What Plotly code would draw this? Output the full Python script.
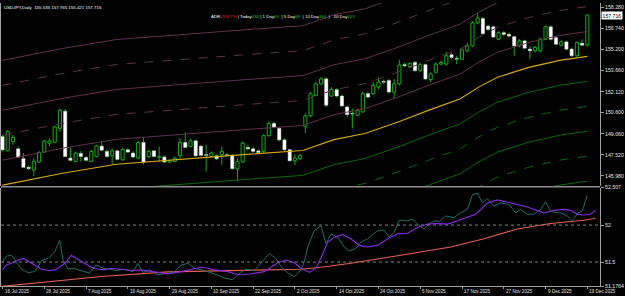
import plotly.graph_objects as go

# ---------------- data ----------------
header_text = "USDJPY,Daily  155.533 157.765 155.421 157.716"

opens = [148.85, 147.81, 148.49, 147.96, 147.24, 146.61, 146.42, 147.00, 147.72, 148.37,
         148.44, 149.45, 150.70, 147.28, 147.04, 147.62, 147.33, 147.04, 147.40, 148.15,
         147.77, 147.45, 147.81, 147.16, 147.89, 147.65, 147.28, 148.42, 147.40, 147.81,
         147.33, 147.36, 147.00, 147.04, 147.48, 148.42, 148.13, 148.54, 148.15, 147.53,
         147.40, 147.45, 147.53, 147.52, 147.48, 146.49, 147.00, 148.06, 147.96, 147.81,
         147.77, 148.92, 149.81, 149.45, 148.61, 147.89, 147.09, 147.24, 149.57, 150.37,
         151.86, 152.70, 153.06, 151.81, 152.27, 151.81, 151.01, 150.53, 150.41, 150.65,
         151.98, 151.98, 152.46, 152.87, 152.94, 152.10, 152.70, 154.10, 153.95, 154.26,
         153.66, 154.10, 153.01, 153.54, 154.14, 154.14, 154.82, 154.55, 154.50, 155.11,
         155.47, 157.15, 157.46, 156.91, 156.86, 155.95, 156.43, 156.31, 156.14, 155.47,
         155.83, 155.23, 155.11, 155.11, 155.95, 156.86, 156.07, 155.52, 155.76, 155.23,
         154.75, 155.66, 155.533]
highs = [148.97, 149.33, 148.97, 148.13, 147.65, 146.76, 147.28, 147.81, 148.61, 148.73,
         149.64, 150.89, 150.85, 148.06, 147.77, 147.81, 147.43, 147.89, 148.25, 148.49,
         147.89, 147.96, 147.91, 148.01, 148.01, 147.77, 148.54, 148.83, 147.89, 147.89,
         148.13, 147.48, 147.19, 147.40, 148.73, 149.16, 148.68, 148.63, 148.25, 148.25,
         147.77, 147.57, 148.13, 147.65, 147.57, 147.28, 148.49, 148.25, 148.10, 147.91,
         149.02, 149.93, 149.93, 149.55, 148.73, 147.96, 147.53, 147.57, 150.53, 152.10,
         152.82, 153.18, 153.18, 152.46, 152.39, 151.91, 151.14, 150.89, 150.89, 152.10,
         152.10, 152.82, 153.18, 153.01, 153.06, 153.06, 154.46, 154.22, 154.31, 154.36,
         154.22, 154.19, 153.54, 154.26, 154.38, 155.03, 154.99, 154.75, 155.28, 155.71,
         157.27, 157.87, 157.59, 157.03, 156.96, 156.53, 156.55, 156.43, 156.19, 155.95,
         155.92, 155.47, 155.47, 156.07, 156.96, 156.96, 156.19, 155.88, 155.85, 155.32,
         155.80, 155.95, 157.765]
lows = [147.77, 147.77, 148.25, 147.28, 146.56, 146.42, 145.96, 146.93, 147.65, 148.13,
        148.37, 149.21, 147.33, 147.04, 146.97, 147.04, 147.04, 147.00, 147.33, 147.77,
        147.33, 146.80, 147.12, 147.09, 147.65, 147.28, 147.21, 146.80, 147.28, 147.33,
        147.04, 146.93, 146.90, 147.00, 147.28, 148.01, 148.06, 147.38, 147.40, 146.32,
        147.33, 147.14, 146.80, 147.40, 146.44, 145.60, 146.93, 147.86, 147.67, 147.62,
        147.67, 148.83, 149.45, 148.49, 147.81, 147.04, 146.76, 147.16, 149.09, 150.29,
        151.79, 152.63, 151.01, 151.74, 151.71, 151.01, 150.29, 149.45, 150.34, 150.58,
        151.62, 151.86, 152.29, 152.70, 152.00, 151.62, 152.58, 153.93, 153.86, 153.59,
        153.59, 152.96, 152.82, 153.47, 154.07, 154.02, 154.50, 154.14, 154.43, 154.99,
        155.40, 157.03, 156.29, 156.55, 156.05, 155.88, 156.19, 156.09, 154.75, 155.37,
        155.23, 154.50, 154.99, 154.99, 155.88, 155.85, 155.52, 155.42, 155.14, 154.65,
        154.67, 155.42, 155.421]
closes = [147.89, 149.21, 148.78, 147.36, 146.61, 146.51, 147.04, 147.69, 148.53, 148.54,
          149.55, 150.77, 147.40, 147.12, 147.65, 147.40, 147.12, 147.77, 148.17, 147.86,
          147.40, 147.81, 147.19, 147.91, 147.72, 147.36, 148.42, 147.00, 147.77, 147.40,
          147.38, 147.00, 147.09, 147.28, 148.42, 148.06, 148.54, 147.45, 147.48, 147.48,
          147.65, 147.24, 147.77, 147.48, 146.51, 147.04, 148.37, 147.96, 147.77, 147.69,
          148.92, 149.81, 149.52, 148.61, 147.89, 147.09, 147.28, 147.48, 150.37, 151.98,
          152.70, 153.06, 151.14, 152.29, 151.81, 151.09, 150.46, 150.50, 150.77, 151.98,
          151.74, 152.58, 152.82, 152.82, 152.10, 152.70, 154.07, 154.02, 154.19, 153.66,
          154.10, 153.06, 153.42, 154.14, 154.26, 154.75, 154.63, 154.50, 155.18, 155.47,
          157.15, 157.51, 156.36, 156.67, 156.12, 156.43, 156.31, 156.19, 155.47, 155.83,
          155.30, 155.11, 155.35, 155.95, 156.86, 155.95, 155.59, 155.76, 155.23, 154.75,
          155.71, 155.52, 157.716]

# moving average (yellow) read at bar positions, and envelope step
ma_x = [0, 11.5, 21.8, 29.0, 37.9, 46.7, 57.5, 63.5, 69.4, 75.9, 81.8, 87.6, 91.2, 94.8, 100.8, 106.7, 112]
ma_v = [145.31, 146.18, 146.83, 147.05, 147.33, 147.55, 147.84, 148.63, 149.07, 149.93,
        150.80, 151.59, 152.46, 153.18, 153.90, 154.41, 154.70]
band_step = 1.82
band_levels = [1, 2, 3, 4, 5]

# sub-window indicator lines
teal_x = [0, 0.76, 1.72, 2.68, 3.63, 4.91, 6.18, 7.46, 8.74, 10.0,
          10.96, 11.61, 12.56, 13.52, 15.11, 16.69, 17.97, 19.25, 20.52, 21.80,
          23.38, 24.99, 25.95, 26.90, 28.16, 29.77, 31.68, 32.95, 34.23, 35.51,
          36.77, 38.68, 40.59, 42.50, 44.11, 45.37, 46.65, 48.24, 50.15, 51.11,
          52.39, 53.35, 54.63, 55.89, 57.17, 57.80, 58.45, 59.71, 60.99, 61.95,
          62.91, 64.19, 65.45, 66.41, 67.69, 68.64, 69.92, 71.83, 73.10, 74.05,
          75.01, 75.97, 77.57, 78.53, 79.48, 80.75, 81.70, 82.66, 83.61, 84.89,
          86.48, 87.76, 89.04, 90.00, 90.96, 91.91, 92.87, 94.13, 95.41, 97.00,
          98.28, 99.23, 100.52, 101.78, 103.06, 104.02, 104.97, 105.93, 106.88, 108.16,
          109.12, 110.08, 111.03, 111.99]
teal_v = [51.504, 51.580, 51.593, 51.504, 51.403, 51.358, 51.371, 51.517, 51.549, 51.637,
          51.792, 51.527, 51.403, 51.416, 51.385, 51.350, 51.460, 51.416, 51.403, 51.385,
          51.403, 51.371, 51.483, 51.358, 51.394, 51.328, 51.350, 51.371, 51.460, 51.483,
          51.416, 51.385, 51.341, 51.284, 51.261, 51.350, 51.403, 51.385, 51.536, 51.615,
          51.549, 51.438, 51.350, 51.305, 51.394, 51.504, 51.703, 51.924, 51.991, 51.748,
          51.881, 51.836, 51.703, 51.650, 51.682, 51.769, 51.814, 51.924, 51.934, 51.836,
          51.902, 52.066, 52.057, 52.080, 52.013, 51.947, 52.013, 52.057, 52.048, 52.123,
          52.101, 52.167, 52.212, 52.411, 52.432, 52.300, 52.358, 52.256, 52.300, 52.279,
          52.167, 52.212, 52.146, 52.146, 52.212, 52.313, 52.190, 52.167, 52.167, 52.123,
          52.057, 52.154, 52.190, 52.402]
purple_x = [0, 0.76, 1.72, 2.68, 3.96, 5.22, 6.18, 7.46, 8.74, 10.0,
            11.28, 12.24, 13.19, 14.15, 15.74, 17.02, 18.30, 19.56, 20.84, 22.75,
            24.67, 26.58, 28.49, 30.40, 31.68, 34.23, 35.51, 38.05, 39.33, 40.59,
            43.16, 44.42, 45.70, 47.61, 50.15, 51.43, 52.72, 54.30, 55.89, 57.17,
            58.8, 60.04, 61.0, 62.28, 63.54, 65.14, 66.73, 68.32, 69.92, 71.83,
            73.74, 75.66, 77.57, 79.48, 81.40, 83.31, 85.22, 87.13, 89.04, 90.63,
            91.91, 92.87, 94.78, 96.69, 98.60, 100.52, 102.43, 103.69, 105.60, 107.51,
            108.80, 110.08, 111.34, 112.62, 113.58]
purple_v = [51.394, 51.460, 51.483, 51.517, 51.549, 51.504, 51.460, 51.403, 51.385, 51.394,
            51.447, 51.504, 51.593, 51.549, 51.483, 51.430, 51.403, 51.394, 51.416, 51.403,
            51.385, 51.394, 51.371, 51.350, 51.341, 51.371, 51.394, 51.430, 51.416, 51.394,
            51.371, 51.341, 51.328, 51.341, 51.371, 51.430, 51.491, 51.527, 51.491, 51.416,
            51.360, 51.420, 51.555, 51.769, 51.836, 51.871, 51.814, 51.725, 51.703, 51.725,
            51.814, 51.881, 51.889, 51.968, 52.013, 52.021, 52.013, 52.057, 52.101, 52.146,
            52.233, 52.300, 52.340, 52.313, 52.279, 52.243, 52.190, 52.163, 52.199, 52.212,
            52.199, 52.146, 52.137, 52.146, 52.199]
salmon_x = [0, 18.93, 31.68, 57.17, 60.99, 66.73, 76.29, 85.85, 92.22, 98.60, 104.97, 111.34, 113.58]
salmon_v = [51.172, 51.305, 51.367, 51.403, 51.430, 51.483, 51.593, 51.703, 51.814, 51.947,
            52.021, 52.066, 52.093]

date_labels = ["16 Jul 2025", "28 Jul 2025", "7 Aug 2025", "19 Aug 2025", "29 Aug 2025",
               "10 Sep 2025", "22 Sep 2025", "2 Oct 2025", "14 Oct 2025", "24 Oct 2025",
               "5 Nov 2025", "17 Nov 2025", "27 Nov 2025", "9 Dec 2025", "19 Dec 2025"]
date_step = 8
price_ticks = [145.98, 147.52, 149.06, 150.60, 152.12, 153.66, 155.20, 156.74, 158.28]
sub_ticks = [51.1764, 51.5, 52.0, 52.507]
sub_tick_text = ["51.1764", "51.5", "52", "52.507"]
sub_levels = [51.5, 52.0]
last_price = 157.716

adr_parts = [("ADR:", "white"), ("205.7%", "#ff2020"), (" | Today", "white"), ("234", "#00d000"),
             (" | 1 Day", "white"), ("69", "#00d000"), ("  | 5 Day", "white"), ("93", "#00d000"),
             ("  | 10 Day", "white"), ("164", "#00d000"), ("  |   20 Day", "white"), ("103", "#00d000")]

# ---------------- styling ----------------
GREEN = "#0fb00f"
UP_BAND = "#643050"
DN_BAND = "#0a6a0a"
MA_COL = "#d8aa10"
AXIS_COL = "#a0a0a0"
FONT = "Liberation Sans"

n = len(opens)
bars = list(range(n))
bull = [i for i in bars if closes[i] >= opens[i]]
bear = [i for i in bars if closes[i] < opens[i]]
min_h = 0.03

fig = go.Figure()

# candle bodies
fig.add_trace(go.Bar(
    x=bull, base=[opens[i] for i in bull],
    y=[max(closes[i] - opens[i], min_h) for i in bull],
    width=0.6, marker=dict(color="black", line=dict(color=GREEN, width=1)),
    xaxis="x", yaxis="y", hoverinfo="skip"))
fig.add_trace(go.Bar(
    x=bear, base=[closes[i] for i in bear],
    y=[max(opens[i] - closes[i], min_h) for i in bear],
    width=0.6, marker=dict(color="white", line=dict(color="white", width=0.5)),
    xaxis="x", yaxis="y", hoverinfo="skip"))

# wicks (above and below the bodies)
wx, wy = [], []
for i in bars:
    top = max(opens[i], closes[i])
    bot = min(opens[i], closes[i])
    wx += [i, i, None, i, i, None]
    wy += [top, highs[i], None, lows[i], bot, None]
fig.add_trace(go.Scatter(x=wx, y=wy, mode="lines", line=dict(color=GREEN, width=1),
                         xaxis="x", yaxis="y", hoverinfo="skip"))

# envelope bands
for k in band_levels:
    dash = "solid" if k % 2 == 1 else "dash"
    fig.add_trace(go.Scatter(x=ma_x, y=[v + k * band_step for v in ma_v], mode="lines",
                             line=dict(color=UP_BAND, width=1, dash=dash),
                             xaxis="x", yaxis="y", hoverinfo="skip"))
    fig.add_trace(go.Scatter(x=ma_x, y=[v - k * band_step for v in ma_v], mode="lines",
                             line=dict(color=DN_BAND, width=1, dash=dash),
                             xaxis="x", yaxis="y", hoverinfo="skip"))
# moving average
fig.add_trace(go.Scatter(x=ma_x, y=ma_v, mode="lines", line=dict(color=MA_COL, width=1.1),
                         xaxis="x", yaxis="y", hoverinfo="skip"))

# sub-window lines
fig.add_trace(go.Scatter(x=salmon_x, y=salmon_v, mode="lines", line=dict(color="#e8604f", width=1.1),
                         xaxis="x2", yaxis="y2", hoverinfo="skip"))
fig.add_trace(go.Scatter(x=teal_x, y=teal_v, mode="lines", line=dict(color="#1d7064", width=1),
                         xaxis="x2", yaxis="y2", hoverinfo="skip"))
fig.add_trace(go.Scatter(x=purple_x, y=purple_v, mode="lines", line=dict(color="#8a2be2", width=1.1),
                         xaxis="x2", yaxis="y2", hoverinfo="skip"))

x_range = [-0.29, 114.43]
date_ticks = [i * date_step for i in range(len(date_labels))]

fig.update_layout(
    width=625, height=296,
    margin=dict(l=0, r=25, t=0, b=10),
    paper_bgcolor="black", plot_bgcolor="black",
    showlegend=False, barmode="overlay", hovermode=False,
    font=dict(family=FONT, color="white", size=5),
    xaxis=dict(domain=[0, 1], range=x_range, anchor="y", matches="x2",
               showticklabels=False, showgrid=False, zeroline=False, showline=False, ticks=""),
    yaxis=dict(domain=[0.3531, 1], range=[145.24, 158.597], anchor="x", side="right",
               tickvals=price_ticks, ticktext=["%.3f" % v for v in price_ticks],
               showgrid=False, zeroline=False, showline=True, linecolor=AXIS_COL, linewidth=1,
               mirror=True, ticks="outside", ticklen=3, tickcolor=AXIS_COL,
               tickfont=dict(size=5.2, color="#e8e8e8", family=FONT)),
    xaxis2=dict(domain=[0, 1], range=x_range, anchor="y2", tickvals=date_ticks,
                showticklabels=False, ticks="outside", ticklen=2, tickcolor=AXIS_COL,
                showline=True, linecolor=AXIS_COL, linewidth=1, showgrid=False, zeroline=False),
    yaxis2=dict(domain=[0, 0.3479], range=[51.1764, 52.507], anchor="x2", side="right",
                tickvals=sub_ticks, ticktext=sub_tick_text,
                showgrid=False, zeroline=False, showline=True, linecolor=AXIS_COL, linewidth=1,
                mirror=True, ticks="outside", ticklen=3, tickcolor=AXIS_COL,
                tickfont=dict(size=5.2, color="#e8e8e8", family=FONT)),
)

# window separator
fig.add_shape(type="rect", xref="paper", yref="paper", x0=0, x1=1, y0=0.3479, y1=0.3531,
              fillcolor="#8c8c8c", line=dict(width=0), layer="above")
# level lines in sub-window
for lv in sub_levels:
    fig.add_shape(type="line", xref="x2 domain", yref="y2", x0=0, x1=1, y0=lv, y1=lv,
                  line=dict(color="#808080", width=1, dash="dot"))

# date labels (left-aligned at their bar)
for t, lab in zip(date_ticks, date_labels):
    fig.add_annotation(x=t, y=0, xref="x2", yref="paper", text=lab, showarrow=False,
                       xanchor="left", yanchor="top", yshift=-1,
                       font=dict(size=4.6, color="#e0e0e0", family=FONT))

# header
fig.add_annotation(x=0, y=1 - 4.5 / 286, xref="paper", yref="paper", text=header_text,
                   showarrow=False, xanchor="left", yanchor="middle", xshift=1,
                   font=dict(size=4.4, color="white", family=FONT))
# ADR info
adr_html = "".join('<span style="color:%s">%s</span>' % (c, t.replace(" ", "&nbsp;")) for t, c in adr_parts)
fig.add_annotation(x=208 / 600, y=1 - 13.5 / 286, xref="paper", yref="paper", text=adr_html,
                   showarrow=False, xanchor="left", yanchor="middle",
                   font=dict(size=4.4, color="white", family=FONT))
# current price box
fig.add_annotation(x=1, y=last_price, xref="paper", yref="y", text="%.3f" % last_price,
                   showarrow=False, xanchor="left", yanchor="middle", xshift=1,
                   bgcolor="white", borderpad=0.5,
                   font=dict(size=5.2, color="black", family=FONT))

fig.write_html("out.html")
